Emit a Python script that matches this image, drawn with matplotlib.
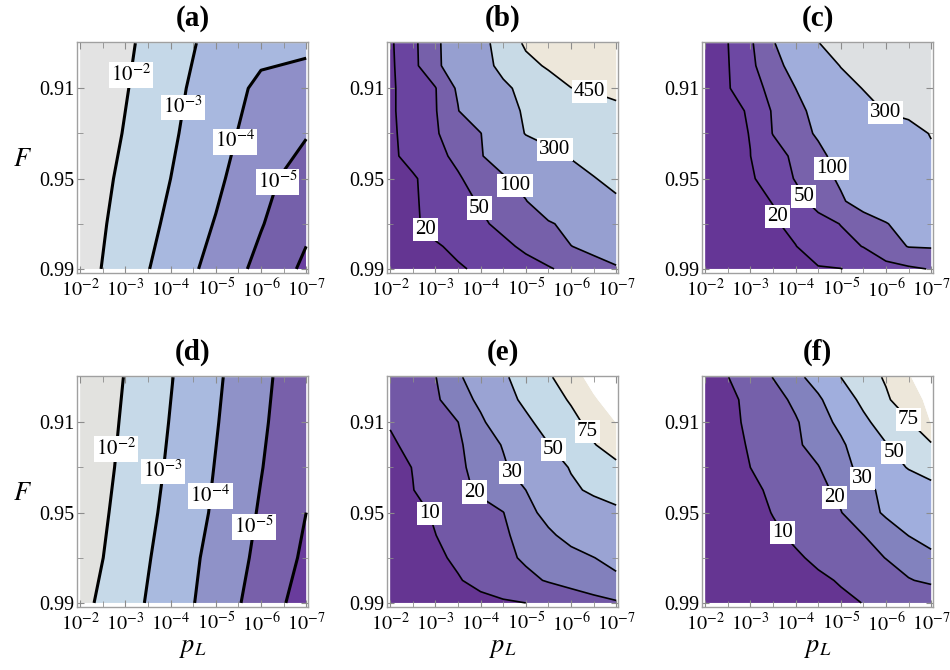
import numpy as np
import matplotlib
matplotlib.use('Agg')
import matplotlib.pyplot as plt

plt.rcParams['font.family'] = 'serif'
plt.rcParams['font.serif'] = ['Liberation Serif', 'DejaVu Serif']
plt.rcParams['mathtext.fontset'] = 'stix'

# grid axes: x = exponent k of p_L = 10^-k, y = F
exp_coarse = [2, 3, 4, 5, 6, 7]
fid_coarse = [0.89, 0.91, 0.93, 0.95, 0.97, 0.99]
exp_fine = [2.0, 2.5, 3.0, 3.5, 4.0, 4.5, 5.0, 5.5, 6.0, 6.5, 7.0]
fid_fine = [0.89, 0.90, 0.91, 0.92, 0.93, 0.94, 0.95, 0.96, 0.97, 0.98, 0.99]

# (a) log10 of logical error, rows = fid_coarse
a_vals = [[-1.06, -1.83, -2.60, -3.30, -3.70, -3.85],
          [-1.15, -1.94, -2.74, -3.49, -4.20, -4.30],
          [-1.26, -2.06, -2.85, -3.66, -4.39, -4.95],
          [-1.41, -2.21, -3.00, -3.79, -4.78, -5.35],
          [-1.50, -2.35, -3.19, -4.06, -4.94, -5.80],
          [-1.57, -2.50, -3.43, -4.35, -5.28, -6.20]]

# (d)
d_vals = [[-1.13, -2.04, -2.95, -3.85, -4.76, -5.67],
          [-1.22, -2.13, -3.04, -3.94, -4.85, -5.76],
          [-1.30, -2.22, -3.14, -4.04, -4.96, -5.87],
          [-1.40, -2.34, -3.26, -4.14, -5.10, -6.00],
          [-1.51, -2.47, -3.41, -4.31, -5.24, -6.18],
          [-1.72, -2.63, -3.51, -4.43, -5.45, -6.45]]

# (b) rows = fid_fine, cols = exp_fine
b_vals = [[16, 41, 81, 160, 256, 360, 470, 490, 510, 520, 530],
          [15, 40, 80, 155, 249, 336, 413, 465, 480, 495, 505],
          [16, 32, 48, 108, 192, 275, 337, 390, 449, 456, 462],
          [16, 32, 47, 97, 171, 246, 318, 370, 400, 425, 440],
          [15, 31, 46, 71, 97, 198, 307, 350, 380, 405, 425],
          [15, 28, 40, 58, 94, 147, 203, 259, 310, 340, 365],
          [12, 17, 31, 46, 66, 89, 130, 185, 240, 295, 330],
          [12, 17, 28, 40, 53, 75, 97, 150, 200, 250, 285],
          [12, 17, 26, 35, 45, 58, 76, 92, 120, 150, 180],
          [10, 14, 18, 24, 34, 43, 56, 77, 99, 115, 130],
          [8, 11, 14, 18, 23, 31, 38, 46, 62, 78, 94]]

# (c)
c_vals = [[13, 19.5, 44, 91, 188, 298, 330, 345, 355, 365, 375],
          [13, 18.5, 42, 75, 127, 218, 305, 330, 345, 358, 368],
          [13, 18, 36, 60, 100, 171, 242, 305, 325, 340, 352],
          [12, 14.5, 22, 53, 81, 121, 184, 246, 308, 322, 334],
          [11, 15, 20.5, 51, 78, 107, 147, 187, 226, 266, 305],
          [10, 15, 19.8, 37, 56.5, 86, 121, 162, 203, 244, 285],
          [10, 14, 17, 31, 52, 79, 108, 146, 184, 222, 260],
          [9, 12.5, 16, 20.5, 39, 62, 93, 125, 156, 188, 220],
          [8, 11, 14, 17.5, 25.5, 38, 51, 73, 96, 132, 170],
          [7, 10, 13, 16, 19.5, 29.6, 40, 51, 79, 102, 104],
          [6, 8.5, 11, 13.5, 16, 18.5, 19.5, 26, 34.7, 43, 52]]

# (e)
e_vals = [[12, 16, 19.7, 28, 37.7, 47, 59, 72, 88, 110, 130],
          [11.5, 15, 18.7, 24.8, 32.5, 43, 53.8, 65, 77.3, 96.5, 115],
          [10.5, 13.5, 16.5, 19.9, 28, 37, 46.3, 57, 68.5, 82.6, 100.5],
          [9, 11.7, 15.2, 18.8, 24.2, 30.7, 40, 49.4, 61.5, 73.8, 85],
          [7, 10.2, 14.2, 18.3, 23, 28.5, 35.5, 43, 51, 61, 70],
          [6.5, 9.8, 13.7, 17.5, 21.5, 25.8, 30, 38.7, 47.4, 52.5, 54],
          [6, 8, 10.8, 13.8, 16.8, 19.8, 27, 33, 38, 43, 48],
          [5.5, 7.5, 9.9, 12.8, 15.8, 18.7, 23, 28.4, 33, 36.5, 40],
          [5, 7, 8.8, 11.1, 14.6, 18, 21.2, 24, 27, 29.8, 33],
          [4.5, 6, 7.8, 9.5, 12, 15, 18, 20.7, 23.1, 25.6, 28],
          [4, 5, 6, 7, 8, 9, 10, 12.3, 14.6, 16.9, 19]]

# (f)
f_vals = [[7, 9.8, 15, 20.2, 26.3, 35.7, 50, 63.4, 77.8, 97.6, 118],
          [6, 8.2, 11.9, 16.7, 21.8, 27.8, 39.4, 54.7, 71.3, 90, 106],
          [6, 8.3, 11.2, 15.2, 19.1, 25, 32.8, 45.6, 59, 72.6, 101],
          [5.5, 7.8, 10.6, 14.6, 18.6, 23.2, 28, 37.1, 49, 61, 72],
          [5, 7.5, 10, 13.2, 16.4, 19.6, 25.9, 33.6, 42.5, 51, 54],
          [4.5, 6.5, 8.6, 11.1, 14.5, 17.9, 21.9, 26.9, 32.7, 39.9, 47],
          [4.2, 6.1, 8.1, 10.2, 13.4, 16.5, 19.7, 25.6, 31.5, 37, 42],
          [4, 5.5, 7.3, 9.1, 10.9, 13.9, 16.9, 19.9, 25, 30.2, 35],
          [3.8, 5.2, 6.6, 8, 9.3, 11, 14.1, 17.2, 20.2, 23.6, 27],
          [3.5, 4.6, 5.7, 6.8, 8, 9.1, 10.4, 13.4, 16.4, 19.5, 21.5],
          [3.2, 4, 4.9, 5.8, 6.8, 7.9, 9, 10.1, 11.1, 12.2, 13.2]]

err_lines = [-6, -5, -4, -3, -2]
err_bounds = [-8, -6, -5, -4, -3, -2, 0]
b_lines = [20, 50, 100, 300, 450]
c_lines = [20, 50, 100, 300]
ef_lines = [10, 20, 30, 50, 75]

a_colors = ['#6a40a0', '#7560aa', '#8f8fc8', '#a8b8df', '#c5d8e8', '#e3e3e3']
d_colors = ['#693c9c', '#7860aa', '#8f92c8', '#a9badf', '#c6d9e8', '#e2e2df']
b_colors = ['#643592', '#6a44a0', '#7660aa', '#969fd0', '#c8dae6', '#ede7da']
c_colors = ['#653696', '#6d48a3', '#7862ab', '#a0addb', '#dde0e2']
e_colors = ['#653592', '#7258a6', '#8280bc', '#9aa3d3', '#c5dae8', '#ede7da', 'white']
f_colors = ['#653592', '#7560aa', '#8282be', '#a0aedd', '#ccdde8', '#ede7da', 'white']

W, H = 950, 670
fig = plt.figure(figsize=(W / 100, H / 100), dpi=100)
size = 231


def make_ax(left, top):
    return fig.add_axes([left / W, 1 - (top + size) / H, size / W, size / H])


def pow_fmt(v):
    return r'$10^{%d}$' % round(v)


def int_fmt(v):
    return '%d' % round(v)


def draw_panel(ax, xs, ys, vals, bounds, colors, lines, fmt, lw, label_pos, title):
    X, Y = np.meshgrid(xs, ys)
    Z = np.array(vals, dtype=float)
    ax.contourf(X, Y, Z, levels=bounds, colors=colors, antialiased=True)
    cs = ax.contour(X, Y, Z, levels=lines, colors='black', linewidths=lw,
                    linestyles='solid')
    # labels only where the reference puts them
    texts = cs.clabel(fmt=fmt, fontsize=15, inline=False, manual=label_pos)
    for t in texts:
        t.set_rotation(0)
        t.set_bbox(dict(boxstyle='square,pad=0.1', fc='white', ec='none'))
        t.set_zorder(5)

    ax.set_xlim(1.93, 7.04)
    ax.set_ylim(0.9918, 0.8895)
    ax.set_xticks([2, 3, 4, 5, 6, 7])
    ax.set_xticklabels([r'$10^{-%d}$' % k for k in [2, 3, 4, 5, 6, 7]])
    ax.set_xticks([2.5, 3.5, 4.5, 5.5, 6.5], minor=True)
    ax.set_yticks([0.91, 0.95, 0.99])
    ax.set_yticklabels(['0.91', '0.95', '0.99'])
    ax.set_yticks([0.93, 0.97], minor=True)
    ax.tick_params(which='both', direction='in', top=True, right=True,
                   color='#8c8c8c', labelsize=14.5)
    ax.tick_params(which='major', length=5)
    ax.tick_params(which='minor', length=4)
    ax.tick_params(axis='y', pad=2)
    ax.tick_params(axis='x', pad=4)
    for sp in ax.spines.values():
        sp.set_color('#a0a0a0')
        sp.set_linewidth(1.0)
    ax.set_title(title, fontsize=21, fontweight='bold', pad=12)


ax_a = make_ax(77, 42)
draw_panel(ax_a, exp_coarse, fid_coarse, a_vals, err_bounds, a_colors, err_lines,
           pow_fmt, 2.2,
           [(3.11, 0.904), (4.15, 0.918), (5.3, 0.933), (6.3, 0.951)], '(a)')
ax_b = make_ax(387, 42)
draw_panel(ax_b, exp_fine, fid_fine, b_vals, [0, 20, 50, 100, 300, 450, 1000], b_colors,
           b_lines, int_fmt, 1.2,
           [(2.8, 0.972), (3.9, 0.964), (4.83, 0.952), (5.65, 0.937), (6.39, 0.9136)], '(b)')
ax_c = make_ax(702, 42)
draw_panel(ax_c, exp_fine, fid_fine, c_vals, [0, 20, 50, 100, 300, 1000], c_colors,
           c_lines, int_fmt, 1.2,
           [(3.44, 0.968), (4.35, 0.956), (5.05, 0.944), (5.9, 0.923)], '(c)')
ax_d = make_ax(77, 376)
draw_panel(ax_d, exp_coarse, fid_coarse, d_vals, err_bounds, d_colors, err_lines,
           pow_fmt, 2.2,
           [(2.85, 0.922), (3.92, 0.932), (5.03, 0.943), (6.04, 0.957)], '(d)')
ax_e = make_ax(387, 376)
draw_panel(ax_e, exp_fine, fid_fine, e_vals, [0, 10, 20, 30, 50, 75, 100, 1000], e_colors,
           ef_lines, int_fmt, 1.2,
           [(2.93, 0.950), (3.86, 0.941), (4.9, 0.929), (5.68, 0.921), (6.52, 0.912)], '(e)')
ax_f = make_ax(702, 376)
draw_panel(ax_f, exp_fine, fid_fine, f_vals, [0, 10, 20, 30, 50, 75, 100, 1000], f_colors,
           ef_lines, int_fmt, 1.2,
           [(3.78, 0.958), (4.78, 0.944), (5.52, 0.934), (6.26, 0.922), (6.59, 0.907)], '(f)')

for ax in [ax_a, ax_d]:
    ax.set_ylabel(r'$F$', fontsize=19, rotation=0, ha='center', va='center')
    ax.yaxis.set_label_coords(-0.235, 0.49)
for ax in [ax_d, ax_e, ax_f]:
    ax.set_xlabel(r'$p_L$', fontsize=19, ha='center', va='center')
    ax.xaxis.set_label_coords(0.5, -0.18)

fig.savefig('out.png', dpi=100)
